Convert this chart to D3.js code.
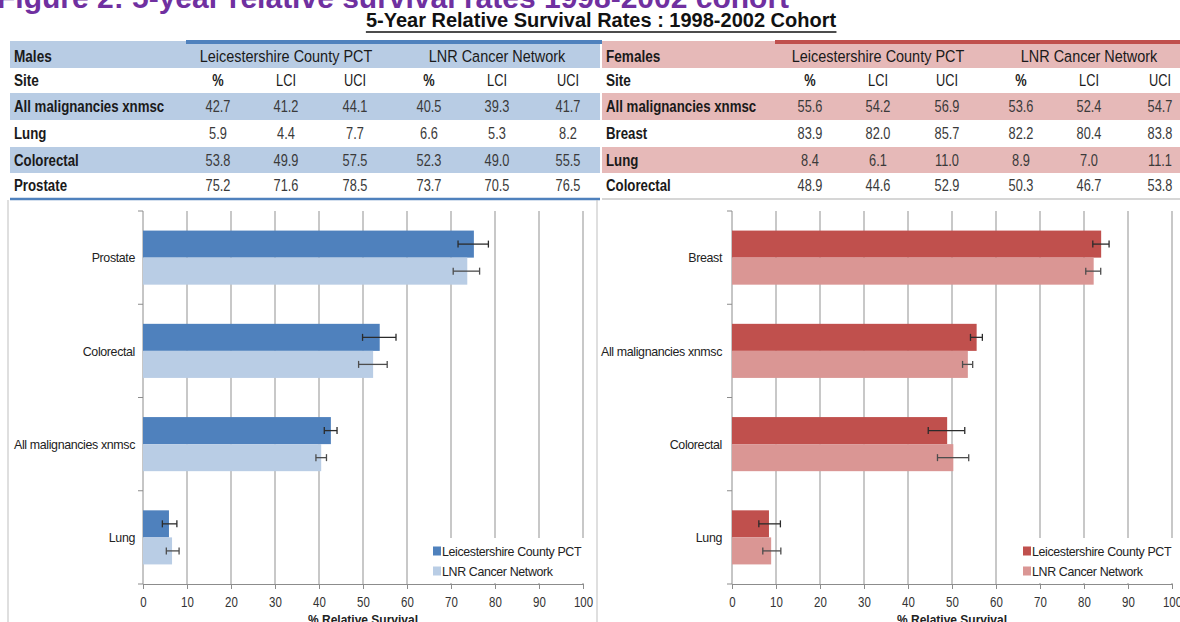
<!DOCTYPE html>
<html>
<head>
<meta charset="utf-8">
<script src="https://cdn.jsdelivr.net/npm/d3@7"></script>
<style>
  html, body { margin: 0; padding: 0; background: #fff; overflow: hidden; }
  svg { display: block; font-family: "Liberation Sans", Arial, sans-serif; }
</style>
</head>
<body>
<div id="chart"></div>
<script>
// 5-year relative survival, 1998-2002 cohort: tables + bar charts with CI whiskers

const colHeads = ['%', 'LCI', 'UCI', '%', 'LCI', 'UCI'];
const orgNames = ['Leicestershire County PCT', 'LNR Cancer Network'];
const xTicks = [0, 10, 20, 30, 40, 50, 60, 70, 80, 90, 100];

// Males (table order)
const maleSites = ['All malignancies xnmsc', 'Lung', 'Colorectal', 'Prostate'];
const maleLeicsPct = [42.7, 5.9, 53.8, 75.2];
const maleLeicsLci = [41.2, 4.4, 49.9, 71.6];
const maleLeicsUci = [44.1, 7.7, 57.5, 78.5];
const maleLnrPct = [40.5, 6.6, 52.3, 73.7];
const maleLnrLci = [39.3, 5.3, 49.0, 70.5];
const maleLnrUci = [41.7, 8.2, 55.5, 76.5];

// Females (table order)
const femaleSites = ['All malignancies xnmsc', 'Breast', 'Lung', 'Colorectal'];
const femaleLeicsPct = [55.6, 83.9, 8.4, 48.9];
const femaleLeicsLci = [54.2, 82.0, 6.1, 44.6];
const femaleLeicsUci = [56.9, 85.7, 11.0, 52.9];
const femaleLnrPct = [53.6, 82.2, 8.9, 50.3];
const femaleLnrLci = [52.4, 80.4, 7.0, 46.7];
const femaleLnrUci = [54.7, 83.8, 11.1, 53.8];

const W = 1180, H = 622;
const svg = d3.select('#chart').append('svg').attr('width', W).attr('height', H);

// no narrow font installed, so squeeze text horizontally
function narrowText(sel, x, y, sx) {
  return sel.append('text')
    .attr('transform', `translate(${x},${y}) scale(${sx},1)`)
    .attr('dy', '0.35em');
}

// page title (cut off at the top in the source)
svg.append('text')
  .attr('x', -3).attr('y', 8)
  .attr('fill', '#7030A0')
  .attr('font-size', 30).attr('font-weight', 'bold')
  .text('Figure 2: 5-year relative survival rates 1998-2002 cohort');

const sub = svg.append('text')
  .attr('x', 601).attr('y', 27)
  .attr('text-anchor', 'middle')
  .attr('font-size', 20).attr('font-weight', 'bold')
  .attr('fill', '#111')
  .text('5-Year Relative Survival Rates : 1998-2002 Cohort');
const sb = sub.node().getBBox();
svg.append('line')
  .attr('x1', sb.x).attr('x2', sb.x + sb.width)
  .attr('y1', 32).attr('y2', 32)
  .attr('stroke', '#111').attr('stroke-width', 1.5);

function panel(cfg) {
  const g = svg.append('g').attr('transform', `translate(${cfg.dx},0)`);
  const rowTops = [44, 68, 93, 120, 147, 173, 198];
  const colX = [218, 286, 355, 429, 497, 568];
  const n = cfg.sites.length;

  // striped rows: header, then every second data row
  [0, 2, 4].forEach((i) => {
    g.append('rect').attr('x', 10).attr('y', rowTops[i])
      .attr('width', cfg.tableW).attr('height', rowTops[i + 1] - rowTops[i])
      .attr('fill', cfg.band);
  });

  // header accent lines
  g.append('rect').attr('x', 10).attr('y', 41).attr('width', cfg.accentStart - 10).attr('height', 3)
    .attr('fill', cfg.band);
  g.append('rect').attr('x', cfg.accentStart).attr('y', 40).attr('width', cfg.accentEnd - cfg.accentStart).attr('height', 4)
    .attr('fill', cfg.dark);
  g.append('line').attr('x1', 10).attr('x2', 10 + cfg.tableW)
    .attr('y1', 199).attr('y2', 199)
    .attr('stroke', cfg.bottomLine).attr('stroke-width', cfg.bottomW);

  const mid = (i) => (rowTops[i] + rowTops[i + 1]) / 2;
  const t = g.append('g').attr('fill', '#1a1a1a');

  narrowText(t, 14, mid(0), 0.8).attr('font-size', 17).attr('font-weight', 'bold').text(cfg.title);
  narrowText(t, 14, mid(1), 0.8).attr('font-size', 17).attr('font-weight', 'bold').text('Site');
  orgNames.forEach((name, k) => {
    narrowText(t, colX[k * 3 + 1], mid(0), 0.85).attr('font-size', 17)
      .attr('text-anchor', 'middle').text(name);
  });
  colHeads.forEach((h, k) => {
    narrowText(t, colX[k], mid(1), 0.8).attr('font-size', 16)
      .attr('text-anchor', 'middle').attr('font-weight', h === '%' ? 'bold' : 'normal').text(h);
  });

  const cols = [cfg.leicsPct, cfg.leicsLci, cfg.leicsUci, cfg.lnrPct, cfg.lnrLci, cfg.lnrUci];
  cfg.sites.forEach((s, i) => {
    narrowText(t, 14, mid(i + 2), 0.78).attr('font-size', 17).attr('font-weight', 'bold').text(s);
    cols.forEach((c, k) => {
      narrowText(t, colX[k], mid(i + 2), 0.8).attr('font-size', 16)
        .attr('text-anchor', 'middle').attr('fill', '#3a3a3a').text(c[i].toFixed(1));
    });
  });

  // chart frame
  g.append('path')
    .attr('d', cfg.framePath)
    .attr('fill', 'none').attr('stroke', '#bfbfbf');

  // chart data, sorted by Leicestershire value
  const rows = cfg.sites.map((s, i) => ({
    site: s,
    bars: [
      { key: 'leics', v: cfg.leicsPct[i], lo: cfg.leicsLci[i], hi: cfg.leicsUci[i] },
      { key: 'lnr', v: cfg.lnrPct[i], lo: cfg.lnrLci[i], hi: cfg.lnrUci[i] }
    ]
  })).sort((a, b) => d3.descending(a.bars[0].v, b.bars[0].v));

  const top = 211, bot = 584;
  const x = d3.scaleLinear().domain([0, 100]).range([cfg.x0, cfg.x0 + 440]);
  const y = d3.scaleBand().domain(rows.map((r) => r.site)).range([top, bot])
    .paddingInner(0.42).paddingOuter(0.21);
  const ys = d3.scaleBand().domain(['leics', 'lnr']).range([0, y.bandwidth()]);
  const fill = { leics: cfg.dark, lnr: cfg.light };

  // gridlines
  g.append('g').selectAll('line').data(xTicks.slice(1)).join('line')
    .attr('x1', (d) => x(d)).attr('x2', (d) => x(d))
    .attr('y1', top).attr('y2', bot)
    .attr('stroke', '#a3a3a3').attr('stroke-width', 1.2);

  // bottom axis with ticks
  const ax = g.append('g').attr('transform', `translate(0,${bot})`)
    .call(d3.axisBottom(x).tickValues(xTicks).tickSize(5).tickPadding(8).tickSizeOuter(0));
  ax.select('.domain').attr('stroke', '#8c8c8c');
  ax.selectAll('.tick line').attr('stroke', '#8c8c8c');
  ax.selectAll('.tick text')
    .attr('font-family', '"Liberation Sans", Arial, sans-serif')
    .attr('font-size', 14).attr('fill', '#333')
    .attr('transform', 'scale(0.82,1)');

  // left axis: boundaries between categories
  const step = y.step();
  const bounds = d3.range(n + 1).map((i) => top + i * step);
  g.append('line').attr('x1', x(0)).attr('x2', x(0)).attr('y1', top).attr('y2', bot).attr('stroke', '#8c8c8c');
  g.append('g').selectAll('line').data(bounds).join('line')
    .attr('x1', x(0) - 5).attr('x2', x(0))
    .attr('y1', (d) => d).attr('y2', (d) => d)
    .attr('stroke', '#8c8c8c');

  // category labels
  g.append('g').selectAll('text').data(rows).join('text')
    .attr('transform', (d) => `translate(${x(0) - cfg.labelGap},${y(d.site) + y.bandwidth() / 2}) scale(0.92,1)`)
    .attr('dy', '0.35em').attr('text-anchor', 'end')
    .attr('font-size', 13.5).attr('letter-spacing', -0.4).attr('fill', '#222')
    .text((d) => d.site);

  // bars
  const grp = g.append('g').selectAll('g').data(rows).join('g')
    .attr('transform', (d) => `translate(0,${y(d.site)})`);
  grp.selectAll('rect').data((d) => d.bars).join('rect')
    .attr('x', x(0)).attr('y', (d) => ys(d.key))
    .attr('width', (d) => x(d.v) - x(0)).attr('height', ys.bandwidth())
    .attr('fill', (d) => fill[d.key]);

  // CI whiskers
  const eb = grp.selectAll('g.eb').data((d) => d.bars).join('g').attr('class', 'eb')
    .attr('stroke', (d) => (d.key === 'leics' ? '#2b2b2b' : '#4d4d4d'))
    .attr('stroke-width', 1.3);
  const cy = (d) => ys(d.key) + ys.bandwidth() / 2;
  eb.append('line').attr('x1', (d) => x(d.lo)).attr('x2', (d) => x(d.hi))
    .attr('y1', cy).attr('y2', cy);
  eb.append('line').attr('x1', (d) => x(d.lo)).attr('x2', (d) => x(d.lo))
    .attr('y1', (d) => cy(d) - 3.5).attr('y2', (d) => cy(d) + 3.5);
  eb.append('line').attr('x1', (d) => x(d.hi)).attr('x2', (d) => x(d.hi))
    .attr('y1', (d) => cy(d) - 3.5).attr('y2', (d) => cy(d) + 3.5);

  // legend
  const lg = g.append('g').attr('transform', `translate(${cfg.legX},538)`);
  lg.append('rect').attr('width', 160).attr('height', 45).attr('fill', '#fff');
  orgNames.forEach((name, k) => {
    const r = lg.append('g').attr('transform', `translate(6,${13 + k * 20})`);
    r.append('rect').attr('x', 0).attr('y', -4.5).attr('width', 8).attr('height', 9)
      .attr('fill', k === 0 ? cfg.dark : cfg.light);
    r.append('text').attr('transform', 'translate(9,0) scale(0.92,1)').attr('dy', '0.35em')
      .attr('font-size', 13.5).attr('letter-spacing', -0.4).attr('fill', '#222').text(name);
  });

  // axis title, clipped by the page bottom
  g.append('text').attr('x', x(50)).attr('y', 624)
    .attr('text-anchor', 'middle').attr('font-size', 12).attr('font-weight', 'bold')
    .attr('fill', '#222').text('% Relative Survival');
}

panel({
  dx: 0, title: 'Males', sites: maleSites,
  leicsPct: maleLeicsPct, leicsLci: maleLeicsLci, leicsUci: maleLeicsUci,
  lnrPct: maleLnrPct, lnrLci: maleLnrLci, lnrUci: maleLnrUci,
  dark: '#4F81BD', light: '#B9CDE5', band: '#B8CCE4', bottomLine: '#4F81BD', bottomW: 2.5,
  accentStart: 186, accentEnd: 602, tableW: 590, x0: 143, legX: 427, labelGap: 8,
  framePath: `M8,${H + 2}V200M597,200V${H + 2}`
});

panel({
  dx: 592, title: 'Females', sites: femaleSites,
  leicsPct: femaleLeicsPct, leicsLci: femaleLeicsLci, leicsUci: femaleLeicsUci,
  lnrPct: femaleLnrPct, lnrLci: femaleLnrLci, lnrUci: femaleLnrUci,
  dark: '#C0504D', light: '#DA9694', band: '#E6B9B8', bottomLine: '#c8c8c8', bottomW: 1.5,
  accentStart: 183, accentEnd: 600, tableW: 590, x0: 140, legX: 425, labelGap: 10,
  framePath: ''
});
</script>
</body>
</html>
